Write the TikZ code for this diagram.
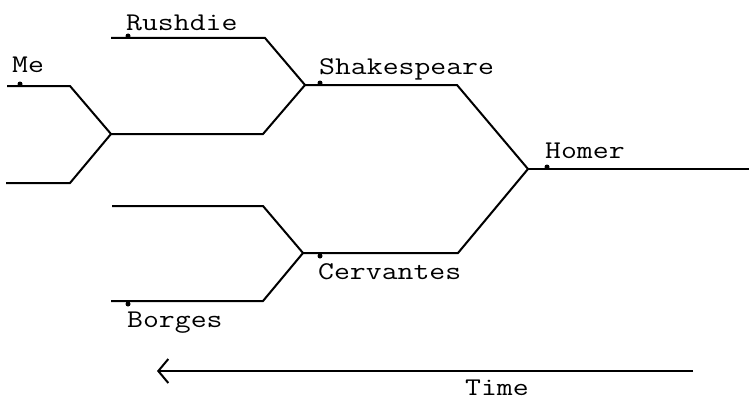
\documentclass[tikz,border=0pt]{standalone}
\usepackage{graphicx}
\usetikzlibrary{arrows.meta}
\newcommand{\widetxt}[1]{\scalebox{1.21}[1]{#1}}
\tikzset{
  branch/.style={line width=2pt, line join=miter},
  lbl/.style={font=\fontsize{25.5}{28}\selectfont\ttfamily, anchor=base west, inner sep=0pt},
  dotmark/.style={circle, fill=black, inner sep=0pt, minimum size=5pt},
  timearrow/.style={line width=2pt, -{Straight Barb[length=10pt,width=24pt,line width=2pt]}}
}
\begin{document}
\begin{tikzpicture}[x=1pt,y=1pt]
\useasboundingbox (0,0) rectangle (749,400);
% junction coordinates
\coordinate (me0) at (7,314);
\coordinate (me1) at (70,314);
\coordinate (lo0) at (6,217);
\coordinate (lo1) at (70,217);
\coordinate (j1) at (111,266);
\coordinate (j1r) at (263,266);
\coordinate (ru0) at (111,362);
\coordinate (ru1) at (265,362);
\coordinate (sh) at (305,315);
\coordinate (sh1) at (457,315);
\coordinate (ho) at (528,231);
\coordinate (ho1) at (749,231);
\coordinate (up0) at (112,194);
\coordinate (up1) at (263,194);
\coordinate (bo0) at (111,99);
\coordinate (bo1) at (263,99);
\coordinate (ce) at (303,147);
\coordinate (ce1) at (458,147);
\coordinate (t0) at (693,29);
\coordinate (t1) at (157,29);

% branches
\draw[branch] (me0) -- (me1) -- (j1) -- (lo1) -- (lo0);
\draw[branch] (j1) -- (j1r) -- (sh) -- (ru1) -- (ru0);
\draw[branch] (sh) -- (sh1) -- (ho) -- (ce1) -- (ce);
\draw[branch] (ho) -- (ho1);
\draw[branch] (up0) -- (up1) -- (ce) -- (bo1) -- (bo0);

% dots
\node[dotmark] (dme) at (20,316) {};
\node[dotmark] (dru) at (128,364) {};
\node[dotmark] (dsh) at (320,317) {};
\node[dotmark] (dho) at (547,233) {};
\node[dotmark] (dce) at (320,144) {};
\node[dotmark] (dbo) at (128,96) {};

% labels
\node[lbl] (lme) at (12,327) {\widetxt{Me}};
\node[lbl] (lru) at (126,370) {\widetxt{Rushdie}};
\node[lbl] (lsh) at (319,326) {\widetxt{Shakespeare}};
\node[lbl] (lho) at (545,242) {\widetxt{Homer}};
\node[lbl] (lce) at (318,121) {\widetxt{Cervantes}};
\node[lbl] (lbo) at (127,73) {\widetxt{Borges}};

% time arrow
\draw[timearrow] (t0) -- (t1);
\node[lbl] (ltime) at (465,5) {\widetxt{Time}};
\end{tikzpicture}
\end{document}
